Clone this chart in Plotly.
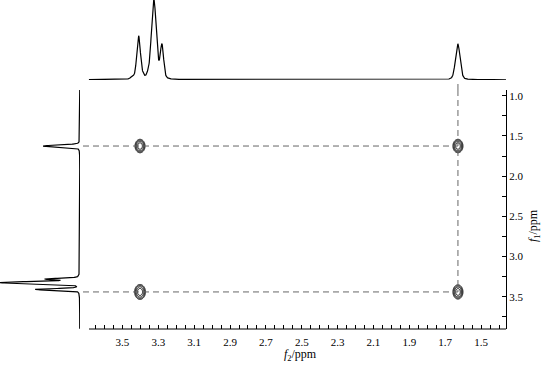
import numpy as np
import plotly.graph_objects as go

W, H = 546, 366
FONT = "Liberation Serif, Times New Roman, serif"

# ---- data ----
# f2 (top) projection peaks: position (ppm), relative height, half width (ppm)
f2_peak_ppm = [3.445, 3.410, 3.385, 3.360, 3.325, 3.280, 1.630]
f2_peak_height = [0.03, 0.54, 0.03, 0.03, 1.00, 0.42, 0.45]
f2_peak_hw = [0.010, 0.012, 0.008, 0.008, 0.016, 0.011, 0.015]
# f1 (left) projection peaks
f1_peak_ppm = [3.410, 3.325, 3.280, 1.626]
f1_peak_height = [0.55, 1.00, 0.41, 0.46]
f1_peak_hw = [0.012, 0.016, 0.011, 0.015]
# cross peaks (f2, f1)
cross_f2 = [3.402, 1.629, 3.402, 1.629]
cross_f1 = [1.626, 1.626, 3.441, 3.441]
cross_sx = [0.012, 0.012, 0.013, 0.012]
cross_sy = [0.036, 0.036, 0.040, 0.038]
# axis ticks
f2_tick_labels = [3.5, 3.3, 3.1, 2.9, 2.7, 2.5, 2.3, 2.1, 1.9, 1.7, 1.5]
f2_minor_ticks = [round(3.65 - 0.05 * i, 2) for i in range(46)]
f1_tick_labels = [1.0, 1.5, 2.0, 2.5, 3.0, 3.5]
f1_minor_ticks = [round(1.0 + 0.25 * i, 2) for i in range(12)]

# ---- layout geometry (pixels -> paper) ----
x_dom = [83 / W, 506 / W]
x_rng = [3.72, 1.361]
y_dom = [(H - 329) / H, (H - 90) / H]
y_rng = [3.902, 0.929]
top_dom = [(H - 80) / H, 1.0]
left_dom = [0.0, 80 / W]


def peak_sum(axis, pos, hgt, hw, eta=0.25):
    out = np.zeros_like(axis)
    for p, h, w in zip(pos, hgt, hw):
        u = (axis - p) / w
        out += h * (eta / (1 + u ** 2) + (1 - eta) * np.exp(-np.log(2) * u ** 2))
    return out


fig = go.Figure()

# top projection
xs = np.linspace(3.687, 1.361, 2400)
fig.add_trace(go.Scatter(x=xs, y=peak_sum(xs, f2_peak_ppm, f2_peak_height, f2_peak_hw),
                         mode="lines", line=dict(color="black", width=1.2),
                         xaxis="x", yaxis="y2", hoverinfo="skip", showlegend=False))
# left projection
ys = np.linspace(0.93, 3.90, 3000)
fig.add_trace(go.Scatter(x=peak_sum(ys, f1_peak_ppm, f1_peak_height, f1_peak_hw), y=ys,
                         mode="lines", line=dict(color="black", width=1.2),
                         xaxis="x3", yaxis="y", hoverinfo="skip", showlegend=False))

# cross peaks as contours
for cx, cy, sx, sy in zip(cross_f2, cross_f1, cross_sx, cross_sy):
    gx = np.linspace(cx - 3.2 * sx, cx + 3.2 * sx, 61)
    gy = np.linspace(cy - 3.2 * sy, cy + 3.2 * sy, 81)
    X, Y = np.meshgrid(gx, gy)
    Z = -(((X - cx) / sx) ** 2 + ((Y - cy) / sy) ** 2) / 2
    fig.add_trace(go.Contour(x=gx, y=gy, z=Z, xaxis="x", yaxis="y",
                             contours=dict(coloring="lines", start=-2.7, end=-0.5, size=0.7),
                             colorscale=[[0, "black"], [1, "black"]], showscale=False,
                             line=dict(width=1.0, smoothing=1), hoverinfo="skip"))

shapes = []
dash_style = dict(color="#666666", width=1, dash="6px,4px")
vx = min(cross_f2)
for lvl in sorted(set(cross_f1)):
    shapes.append(dict(type="line", xref="x", yref="y", x0=x_rng[0], x1=vx,
                       y0=lvl, y1=lvl, line=dash_style))
shapes.append(dict(type="line", xref="x", yref="y", x0=vx, x1=vx, y0=y_rng[1], y1=max(cross_f1),
                   line=dash_style))
shapes.append(dict(type="line", xref="x", yref="paper", x0=vx, x1=vx, y0=y_dom[1], y1=top_dom[0],
                   line=dash_style))
# bottom axis line
shapes.append(dict(type="line", xref="paper", yref="paper", x0=89 / W, x1=506 / W,
                   y0=y_dom[0], y1=y_dom[0], line=dict(color="black", width=1)))

fig.update_layout(
    width=W, height=H, margin=dict(l=0, r=0, t=0, b=0, autoexpand=False),
    paper_bgcolor="white", plot_bgcolor="white",
    font=dict(family=FONT, size=11, color="black"),
    showlegend=False,
    xaxis=dict(domain=x_dom, range=x_rng, anchor="y", showgrid=False, zeroline=False,
               showline=False, automargin=False,
               ticks="inside", ticklen=4, tickcolor="black", tickwidth=1,
               tickvals=f2_tick_labels, ticktext=[f"{v:.1f}" for v in f2_tick_labels],
               ticklabelstandoff=5,
               minor=dict(tickvals=f2_minor_ticks, ticks="inside", ticklen=4,
                          tickcolor="black", tickwidth=1, showgrid=False),
               tickfont=dict(family=FONT, size=11)),
    yaxis=dict(domain=y_dom, range=y_rng, anchor="x", side="right", showgrid=False,
               zeroline=False, showline=True, linecolor="black", linewidth=1, automargin=False,
               ticks="inside", ticklen=4, tickcolor="black", tickwidth=1,
               tickvals=f1_tick_labels, ticktext=[f"{v:.1f}" for v in f1_tick_labels],
               minor=dict(tickvals=f1_minor_ticks, ticks="inside", ticklen=4,
                          tickcolor="black", tickwidth=1, showgrid=False),
               tickfont=dict(family=FONT, size=11)),
    yaxis2=dict(domain=top_dom, range=[-0.003, 1.0], anchor="x", visible=False),
    xaxis3=dict(domain=left_dom, range=[1.0, -0.003], anchor="y", visible=False),
    shapes=shapes,
    annotations=[
        dict(text="<i>f</i><sub>2</sub>/ppm", xref="paper", yref="paper", x=300 / W, y=1 / H,
             xanchor="center", yanchor="bottom",
             showarrow=False, font=dict(family=FONT, size=12)),
        dict(text="<i>f</i><sub>1</sub>/ppm", xref="paper", yref="paper", x=534 / W, y=(H - 226) / H,
             xanchor="center", yanchor="middle",
             showarrow=False, textangle=-90, font=dict(family=FONT, size=12)),
    ],
)

fig.write_html("out.html", config={"displayModeBar": False},
               post_script="document.body.style.margin='0';")
